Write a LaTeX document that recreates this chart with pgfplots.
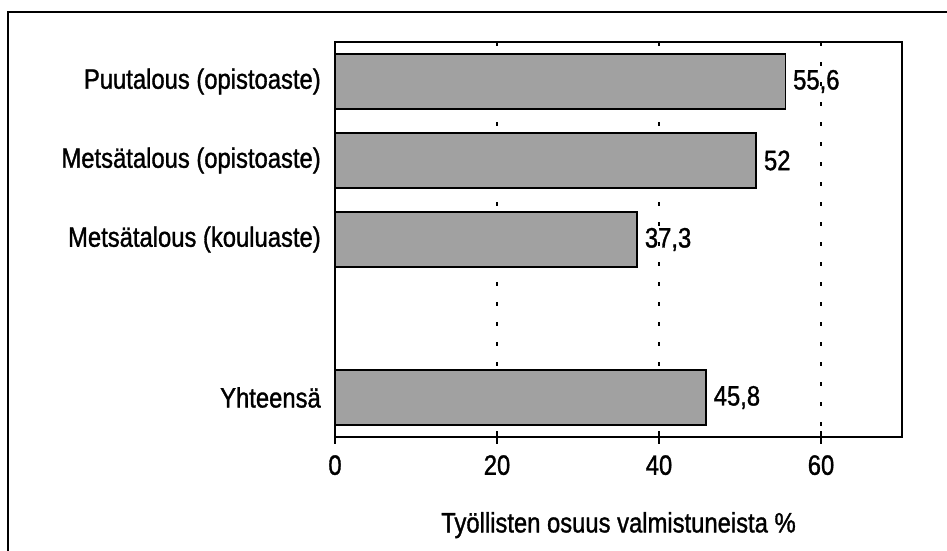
\documentclass[border=0pt]{standalone}
\usepackage{fontspec}
\setmainfont{Liberation Sans}[FakeStretch=0.85, FakeBold=1.2]
\usepackage{pgfplots}
\pgfplotsset{compat=1.18}
\begin{document}
\fontsize{14pt}{16pt}\selectfont
\begin{tikzpicture}
\path[use as bounding box] (0pt,0pt) rectangle (473.5pt,275.5pt);
\draw[line width=1pt] (3.85pt,-2pt) -- (3.85pt,269.65pt) -- (476pt,269.65pt);
\begin{axis}[
  at={(167.5pt,57pt)}, anchor=south west,
  scale only axis, width=283.5pt, height=197.5pt,
  xbar, xmin=0, xmax=70, ymin=-0.5, ymax=4.5, y dir=reverse,
  bar width=0.69,
  xtick={0,20,40,60}, ytick={0,1,2,4},
  yticklabels={Puutalous (opistoaste),Metsätalous (opistoaste),Metsätalous (kouluaste),Yhteensä},
  xtick pos=left, ytick style={draw=none},
  tick align=center, major tick length=6.5pt,
  xtick style={line width=1pt, black},
  xticklabel style={yshift=-1pt},
  yticklabel style={xshift=1pt},
  axis line style={line width=1pt},
  /pgf/number format/assume math mode=true,
  xmajorgrids, grid style={black, line width=0.65pt, dash pattern=on 2pt off 8pt},
  xlabel={Työllisten osuus valmistuneista \%},
  xlabel style={yshift=-9pt},
  nodes near coords, point meta=explicit symbolic,
  every node near coord/.append style={anchor=west, black, inner sep=3.5pt},
]
\addplot[fill=black!37, draw=black, line width=0.8pt] coordinates {
  (55.6,0) [55,6]
  (52,1) [52]
  (37.3,2) [37,3]
  (45.8,4) [45,8]
};
\end{axis}
\end{tikzpicture}
\end{document}
